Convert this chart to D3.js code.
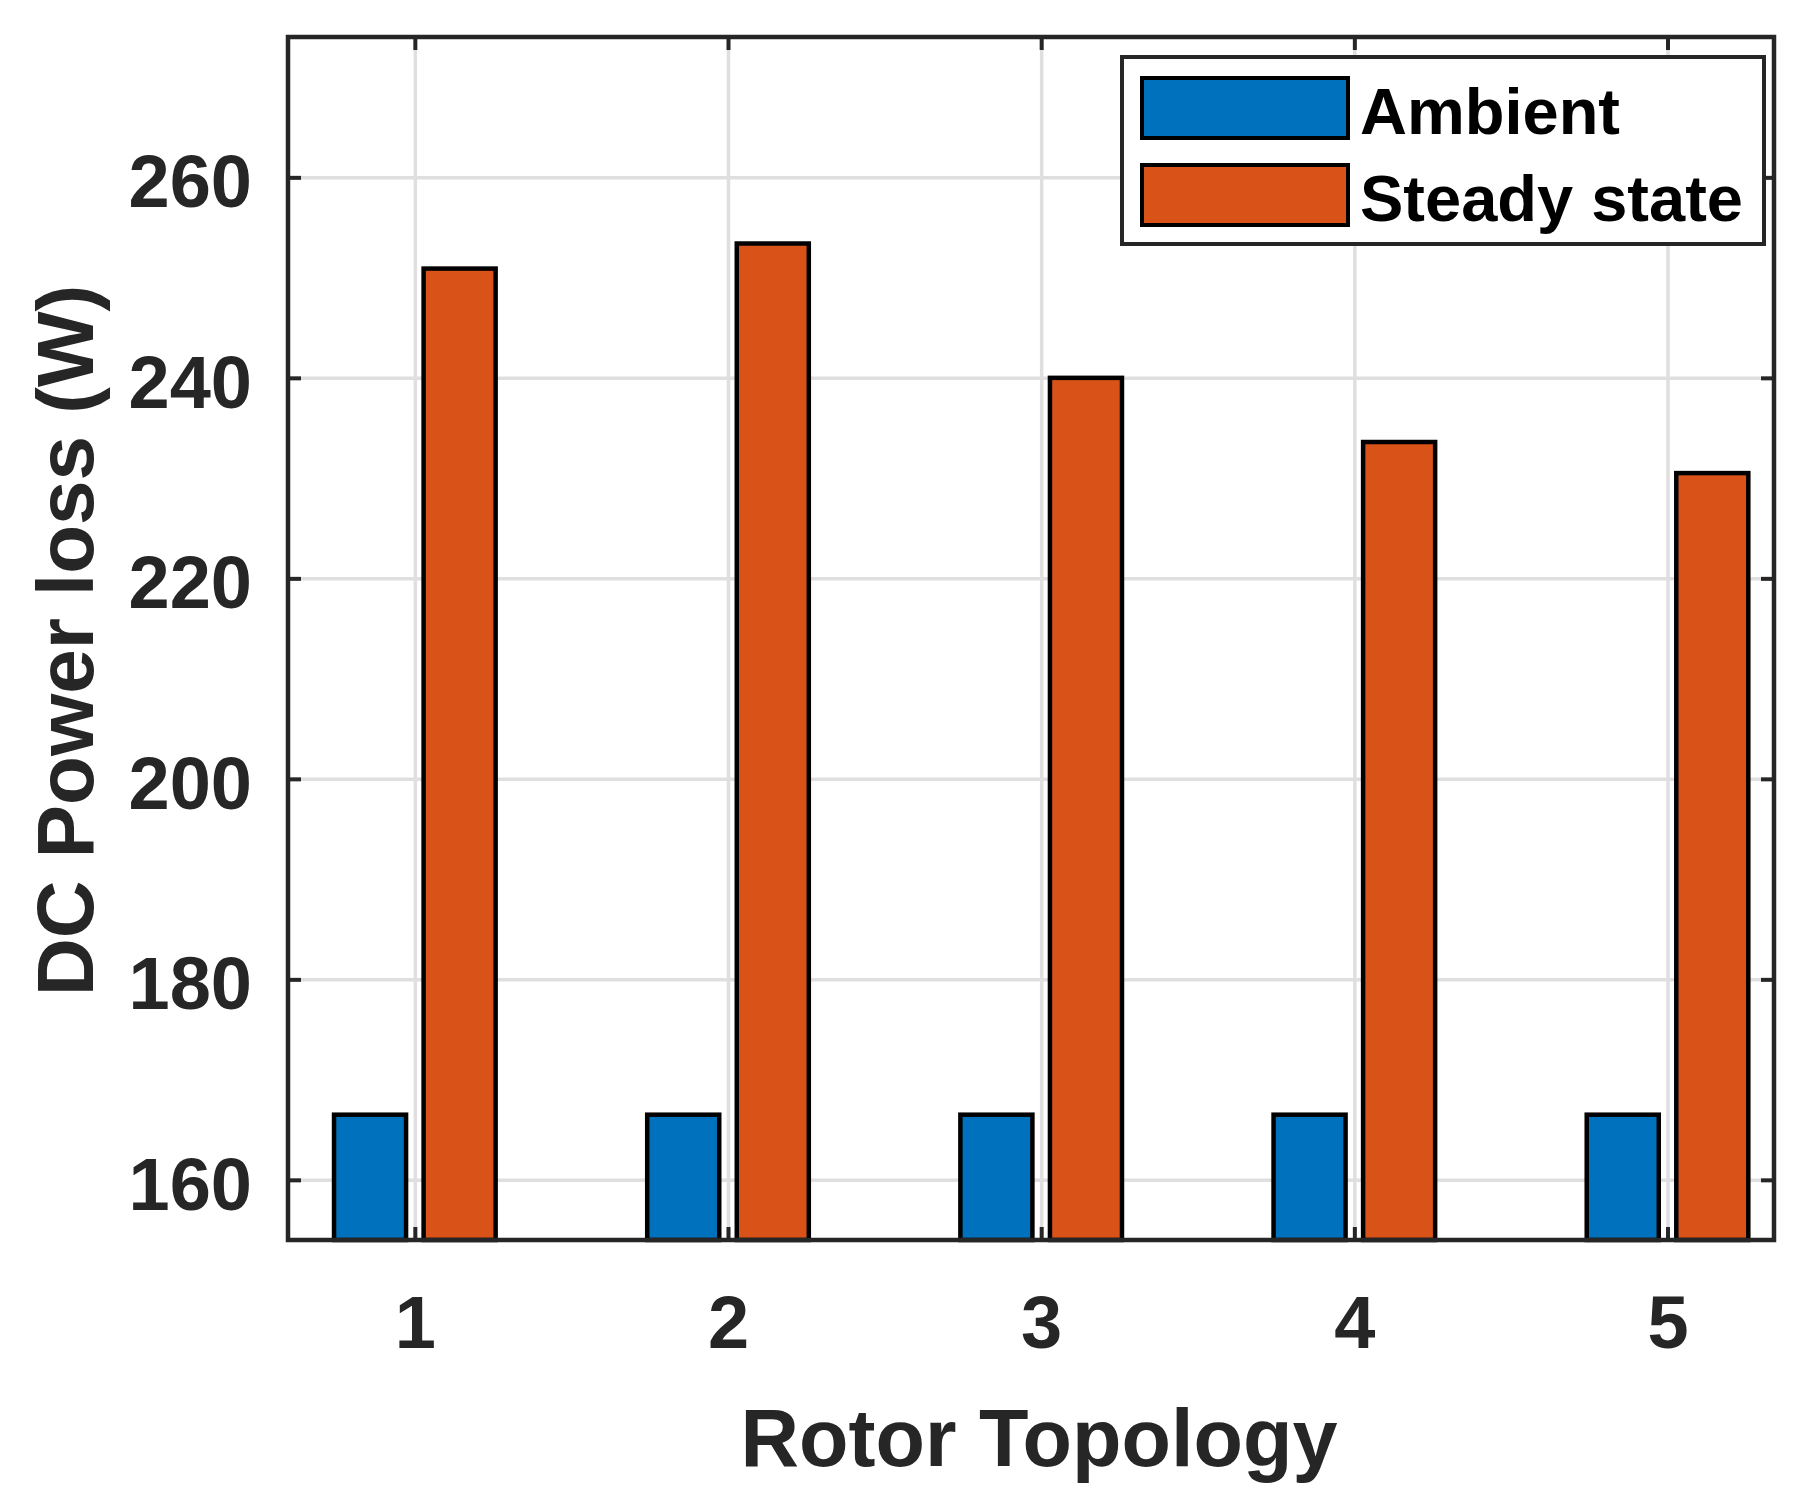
<!DOCTYPE html>
<html>
<head>
<meta charset="utf-8">
<script src="https://cdnjs.cloudflare.com/ajax/libs/d3/7.8.5/d3.min.js"></script>
<style>
  body { margin: 0; background: #fff; }
  text { font-family: "Liberation Sans", Arial, Helvetica, sans-serif; font-weight: bold; }
</style>
</head>
<body>
<div id="chart"></div>
<script>
const categories = [1, 2, 3, 4, 5];
const seriesNames = ["Ambient", "Steady state"];
const ambient = [166.5, 166.5, 166.5, 166.5, 166.5];
const steady = [250.9, 253.4, 240.0, 233.6, 230.5];
const yTicks = [160, 180, 200, 220, 240, 260];
const colors = ["#0072BD", "#D95319"];

const width = 1813;
const height = 1508;
const plotLeft = 288, plotRight = 1774, plotTop = 37, plotBottom = 1240;

const svg = d3.select("#chart").append("svg")
    .attr("width", width)
    .attr("height", height);

const x = d3.scaleLinear().domain([0.595, 5.34]).range([plotLeft, plotRight]);
const y = d3.scaleLinear().domain([154, 274]).range([plotBottom, plotTop]);

// grid
const grid = svg.append("g").attr("class", "grid");
grid.append("g")
    .attr("transform", `translate(0,${plotBottom})`)
    .call(d3.axisBottom(x).tickValues(categories).tickSize(-(plotBottom - plotTop)).tickFormat(""));
grid.append("g")
    .attr("transform", `translate(${plotLeft},0)`)
    .call(d3.axisLeft(y).tickValues(yTicks).tickSize(-(plotRight - plotLeft)).tickFormat(""));
grid.selectAll(".domain").remove();
grid.selectAll("line").attr("stroke", "#dfdfdf").attr("stroke-width", 3.5);

// bars
const series = [ambient, steady];
const offsets = [-0.143, 0.143];
const barW = 0.23;

series.forEach((vals, i) => {
    svg.append("g").selectAll("rect")
        .data(vals)
        .enter().append("rect")
        .attr("x", (d, j) => x(categories[j] + offsets[i] - barW / 2))
        .attr("width", x(barW) - x(0))
        .attr("y", d => y(d))
        .attr("height", d => y(154) - y(d))
        .attr("fill", colors[i])
        .attr("stroke", "#000")
        .attr("stroke-width", 4.5);
});

// axes (ticks inward)
const tl = 13;
const axB = svg.append("g").attr("transform", `translate(0,${plotBottom})`)
    .call(d3.axisBottom(x).tickValues(categories).tickFormat(d3.format("d"))
        .tickSizeInner(-tl).tickSizeOuter(0).tickPadding(55));
const axT = svg.append("g").attr("transform", `translate(0,${plotTop})`)
    .call(d3.axisTop(x).tickValues(categories).tickSizeInner(-tl).tickSizeOuter(0).tickFormat(""));
const axL = svg.append("g").attr("transform", `translate(${plotLeft},0)`)
    .call(d3.axisLeft(y).tickValues(yTicks).tickSizeInner(-tl).tickSizeOuter(0).tickPadding(36));
const axR = svg.append("g").attr("transform", `translate(${plotRight},0)`)
    .call(d3.axisRight(y).tickValues(yTicks).tickSizeInner(-tl).tickSizeOuter(0).tickFormat(""));

[axB, axT, axL, axR].forEach(a => {
    a.select(".domain").remove();
    a.selectAll("line").attr("stroke", "#262626").attr("stroke-width", 4);
    a.selectAll("text").attr("fill", "#262626").style("font-size", "74px")
        .style("font-family", "'Liberation Sans', Arial, sans-serif").style("font-weight", "bold");
});
axL.selectAll("text").attr("dy", "0.4em");

svg.append("rect")
    .attr("x", plotLeft).attr("y", plotTop)
    .attr("width", plotRight - plotLeft).attr("height", plotBottom - plotTop)
    .attr("fill", "none")
    .attr("stroke", "#262626")
    .attr("stroke-width", 4.5);

// labels
svg.append("text")
    .attr("x", (plotLeft + plotRight) / 2 + 8)
    .attr("y", 1466)
    .attr("text-anchor", "middle")
    .attr("fill", "#262626")
    .style("font-size", "81px")
    .text("Rotor Topology");

svg.append("text")
    .attr("transform", `translate(93,${(plotTop + plotBottom) / 2 + 2}) rotate(-90)`)
    .attr("text-anchor", "middle")
    .attr("fill", "#262626")
    .style("font-size", "80px")
    .text("DC Power loss (W)");

// legend
const legend = svg.append("g");
legend.append("rect")
    .attr("x", 1122).attr("y", 57)
    .attr("width", 642).attr("height", 187)
    .attr("fill", "#fff")
    .attr("stroke", "#262626")
    .attr("stroke-width", 4);

const items = legend.selectAll(".item")
    .data(seriesNames)
    .enter().append("g")
    .attr("class", "item")
    .attr("transform", (d, i) => `translate(0,${78 + i * 87})`);

items.append("rect")
    .attr("x", 1142).attr("y", 0)
    .attr("width", 206).attr("height", 60)
    .attr("fill", (d, i) => colors[i])
    .attr("stroke", "#000")
    .attr("stroke-width", 4);

items.append("text")
    .attr("x", 1360)
    .attr("y", 56)
    .attr("fill", "#000")
    .style("font-size", "65px")
    .text(d => d);
</script>
</body>
</html>
